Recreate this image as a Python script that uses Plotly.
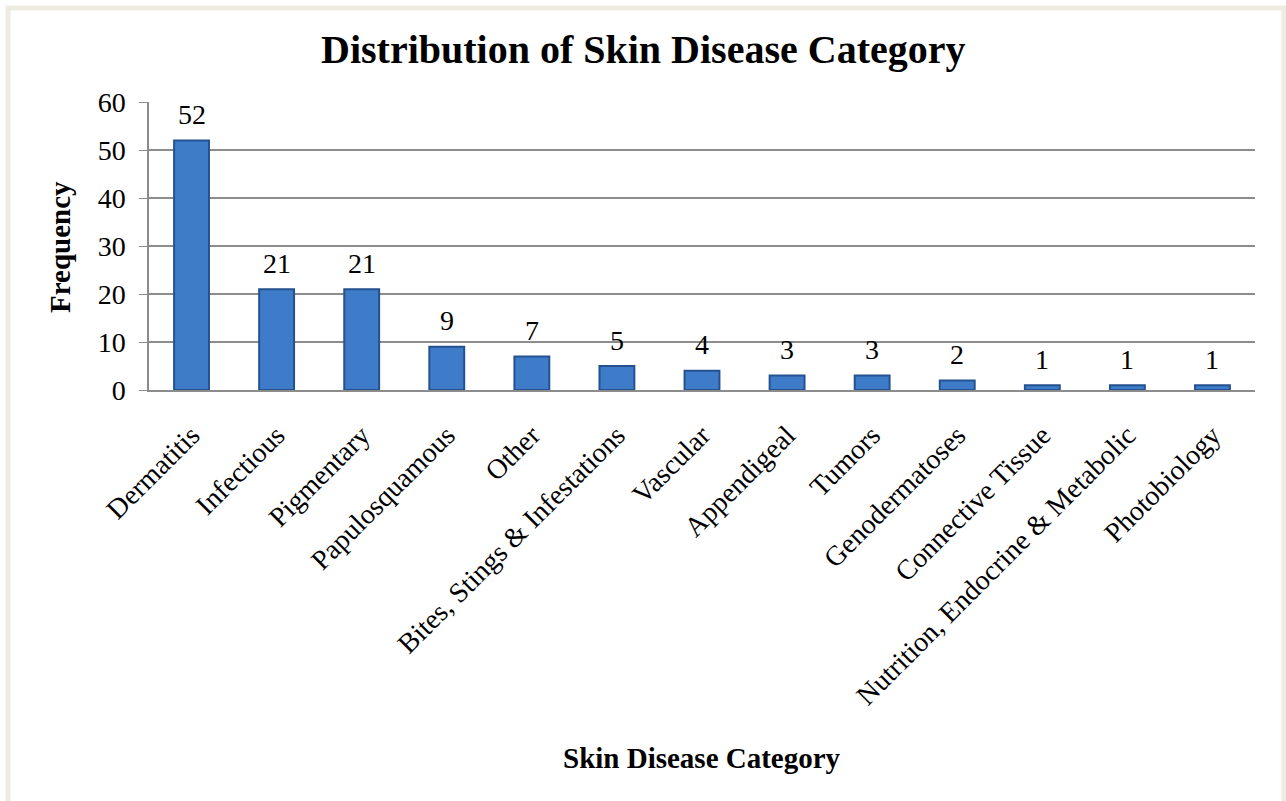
import plotly.graph_objects as go

categories = ["Dermatitis", "Infectious", "Pigmentary", "Papulosquamous", "Other",
              "Bites, Stings & Infestations", "Vascular", "Appendigeal", "Tumors",
              "Genodermatoses", "Connective Tissue", "Nutrition, Endocrine & Metabolic",
              "Photobiology"]
frequency = [52, 21, 21, 9, 7, 5, 4, 3, 3, 2, 1, 1, 1]
y_ticks = [0, 10, 20, 30, 40, 50, 60]

FONT = "Liberation Serif, Times New Roman, serif"

fig = go.Figure()
fig.add_trace(go.Bar(
    x=categories, y=frequency,
    marker=dict(color="#3e7cca", line=dict(color="#25528f", width=2)),
    cliponaxis=False,
))

W, H = 1286, 801
L, R, T, B = 149, 31, 102, 411
pw, ph = W - L - R, H - T - B

def px(x):
    return (x - L) / pw

def py(y):
    return (H - B - y) / ph

annotations = [
    dict(text="<b>Distribution of Skin Disease Category</b>", xref="paper", yref="paper",
         x=px(643), y=py(50), showarrow=False, font=dict(family=FONT, size=40, color="black"),
         xanchor="center", yanchor="middle"),
    dict(text="<b>Frequency</b>", xref="paper", yref="paper",
         x=px(60), y=py(247), showarrow=False, textangle=-90,
         font=dict(family=FONT, size=29, color="black"), xanchor="center", yanchor="middle"),
    dict(text="<b>Skin Disease Category</b>", xref="paper", yref="paper",
         x=px(702), y=py(758), showarrow=False,
         font=dict(family=FONT, size=29, color="black"), xanchor="center", yanchor="middle"),
]
for c, v in zip(categories, frequency):
    annotations.append(dict(text=str(v), x=c, y=v, xref="x", yref="y", showarrow=False,
                            yshift=26, xanchor="center", yanchor="middle",
                            font=dict(family=FONT, size=28, color="black")))

fig.update_layout(
    width=W, height=H,
    margin=dict(l=L, r=R, t=T, b=B),
    paper_bgcolor="white", plot_bgcolor="white",
    bargap=0.59, showlegend=False,
    font=dict(family=FONT, color="black"),
    xaxis=dict(tickangle=-45, tickfont=dict(family=FONT, size=28, color="black"),
               showline=True, linecolor="#8c8c8c", linewidth=1.5,
               ticks="", showgrid=False, ticklabelstandoff=16),
    yaxis=dict(range=[0, 60], tickvals=y_ticks, tickfont=dict(family=FONT, size=28, color="black"),
               showline=True, linecolor="#8c8c8c", linewidth=1.5,
               ticks="outside", ticklen=8, tickcolor="#8c8c8c",
               showgrid=True, gridcolor="#8c8c8c", gridwidth=1.5, zeroline=False,
               ticklabelstandoff=8),
    annotations=annotations,
    shapes=[
        dict(type="rect", xref="paper", yref="paper",
             x0=px(8), x1=px(1284), y0=py(830), y1=py(8),
             line=dict(color="#eeebe0", width=5), fillcolor="rgba(0,0,0,0)", layer="below"),
    ],
)

fig.write_html("out.html")
